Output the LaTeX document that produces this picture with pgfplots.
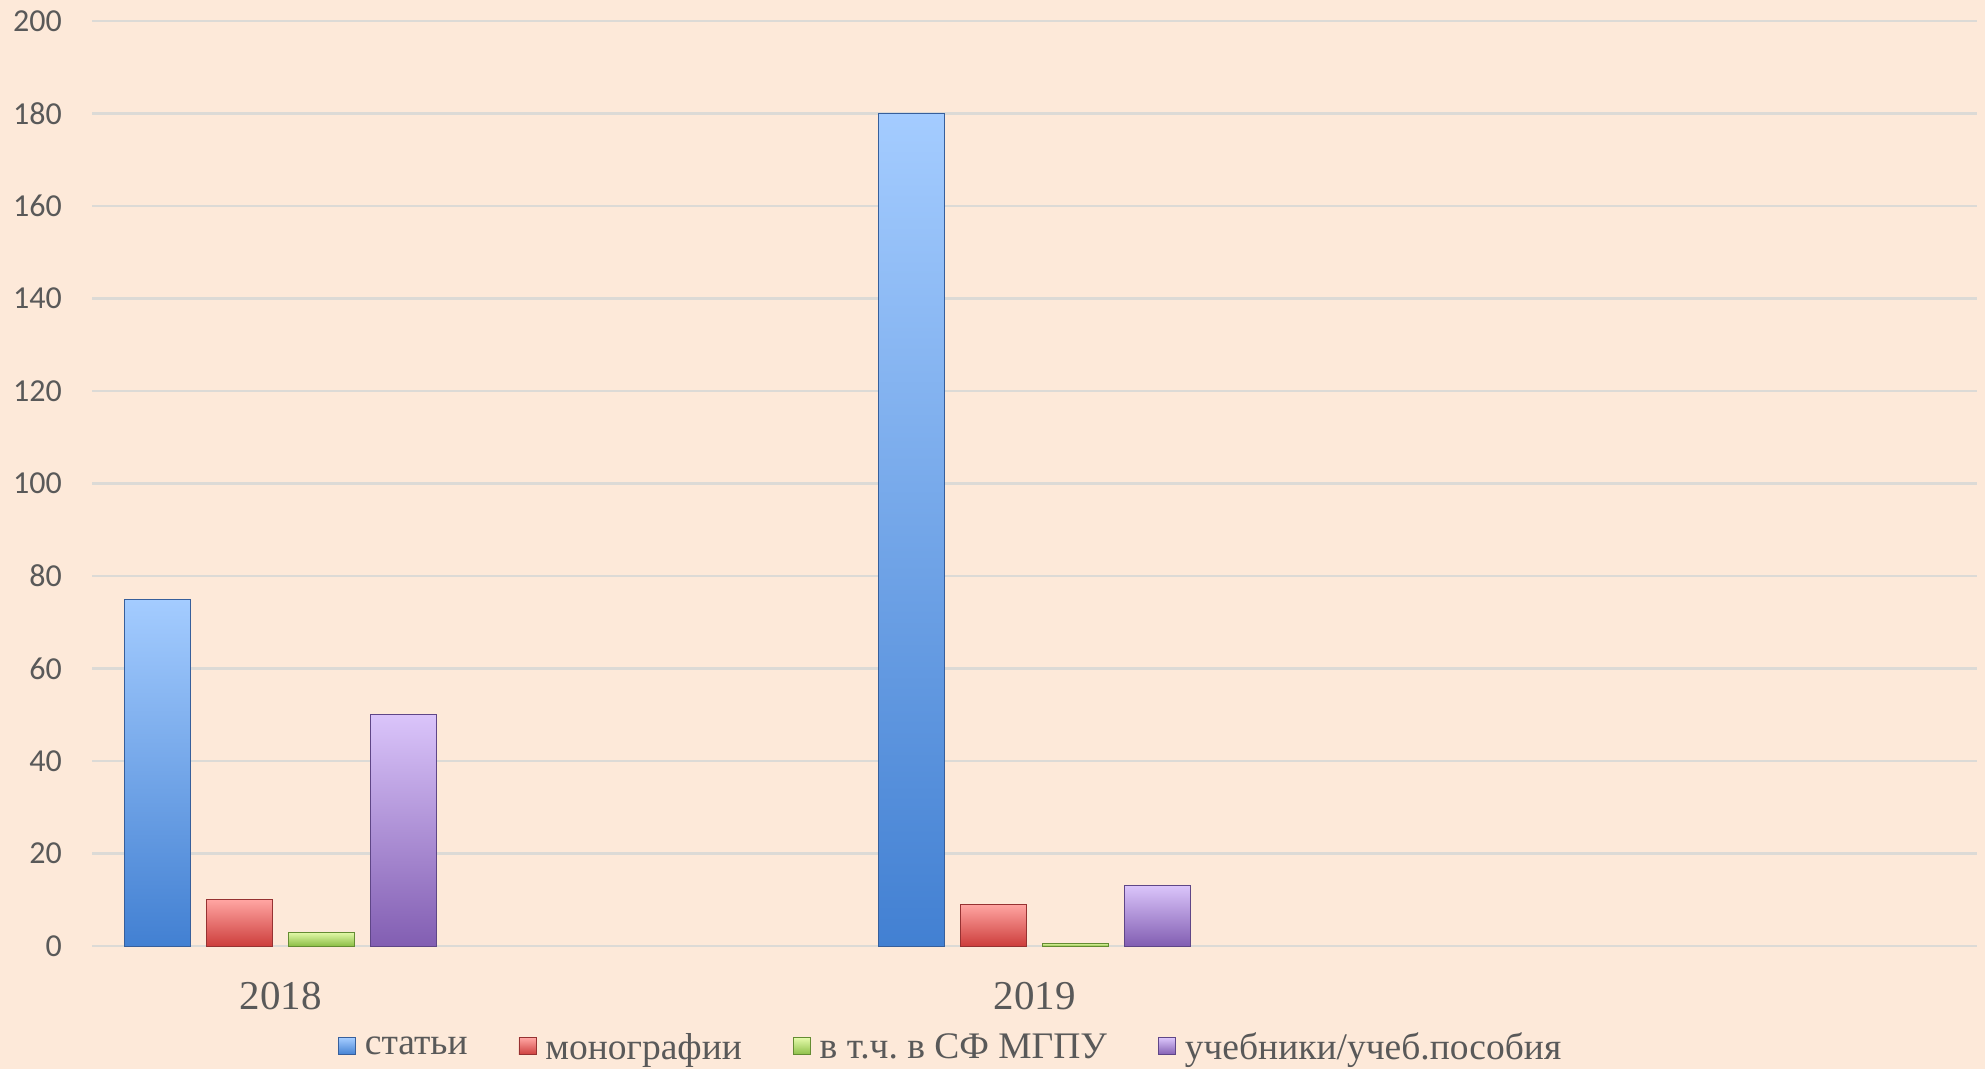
\documentclass[border=0pt]{standalone}
\usepackage{pgfplots}
\pgfplotsset{compat=1.18}
\usepackage{fontspec}
\setmainfont{Liberation Serif}
\newfontfamily\calibri{Carlito}
\frenchspacing
\definecolor{bg}{HTML}{FDE9D9}
\definecolor{tc}{HTML}{595959}
\definecolor{gridc}{HTML}{DCDAD6}
\definecolor{bluetop}{RGB}{164,204,255}
\definecolor{bluebot}{RGB}{66,128,210}
\definecolor{blueedge}{RGB}{55,95,155}
\definecolor{redtop}{RGB}{255,165,162}
\definecolor{redbot}{RGB}{205,62,60}
\definecolor{rededge}{RGB}{150,50,50}
\definecolor{greentop}{RGB}{228,250,170}
\definecolor{greenbot}{RGB}{140,190,70}
\definecolor{greenedge}{RGB}{100,140,50}
\definecolor{purptop}{RGB}{218,196,250}
\definecolor{purpbot}{RGB}{130,94,178}
\definecolor{purpedge}{RGB}{95,70,135}
\pgfplotsset{
  sblue/.style={top color=bluetop, bottom color=bluebot, draw=blueedge, line width=1pt},
  sred/.style={top color=redtop, bottom color=redbot, draw=rededge, line width=1pt},
  sgreen/.style={top color=greentop, bottom color=greenbot, draw=greenedge, line width=1pt},
  spurp/.style={top color=purptop, bottom color=purpbot, draw=purpedge, line width=1pt},
}
\begin{document}
\begin{tikzpicture}[x=1pt,y=1pt]
\fill[bg] (0,0) rectangle (1985,1069);
\begin{axis}[
  at={(92pt,123pt)}, anchor=south west,
  scale only axis, width=1885pt, height=925pt,
  xmin=0.75, xmax=3.25, ymin=0, ymax=200,
  ytick={0,20,...,200},
  xtick={1,2}, xticklabels={2018,2019},
  ybar=16pt, bar width=66pt,
  axis line style={draw=none},
  tick style={draw=none},
  ymajorgrids, major grid style={draw=gridc, line width=2.2pt},
  /pgf/number format/assume math mode=true,
  yticklabel style={font=\calibri\fontsize{32}{38}\selectfont, text=tc, anchor=east, inner sep=0pt, xshift=-30pt},
  xticklabel style={font=\fontsize{41}{46}\selectfont, text=tc, anchor=north, inner sep=0pt, yshift=-32pt},
  legend style={at={(0.455,-0.109)}, anchor=center, draw=none, fill=none,
    font=\fontsize{37.5}{42}\selectfont, text=tc,
    nodes={inner sep=0pt},
    /tikz/every odd column/.append style={column sep=9pt},
    /tikz/every even column/.append style={column sep=51pt}},
  legend columns=4,
  legend image code/.code={\draw[#1, line width=0.8pt] (0pt,-8pt) rectangle (17pt,9pt);},
]
% 8 single-bar plots: auto shift is (i-3.5)*82pt; an x offset of 164pt (=0.2175 units) puts each year's four bars round its tick
\addplot[sblue]  coordinates {(1.2175,75)};
\addplot[sred]   coordinates {(1.2175,10)};
\addplot[sgreen] coordinates {(1.2175,3)};
\addplot[spurp]  coordinates {(1.2175,50)};
\addplot[sblue]  coordinates {(1.7825,180)};
\addplot[sred]   coordinates {(1.7825,9)};
\addplot[sgreen] coordinates {(1.7825,0.6)};
\addplot[spurp]  coordinates {(1.7825,13)};
\legend{статьи, монографии, в т.ч. в СФ МГПУ, учебники/учеб.пособия}
\end{axis}
\end{tikzpicture}
\end{document}
